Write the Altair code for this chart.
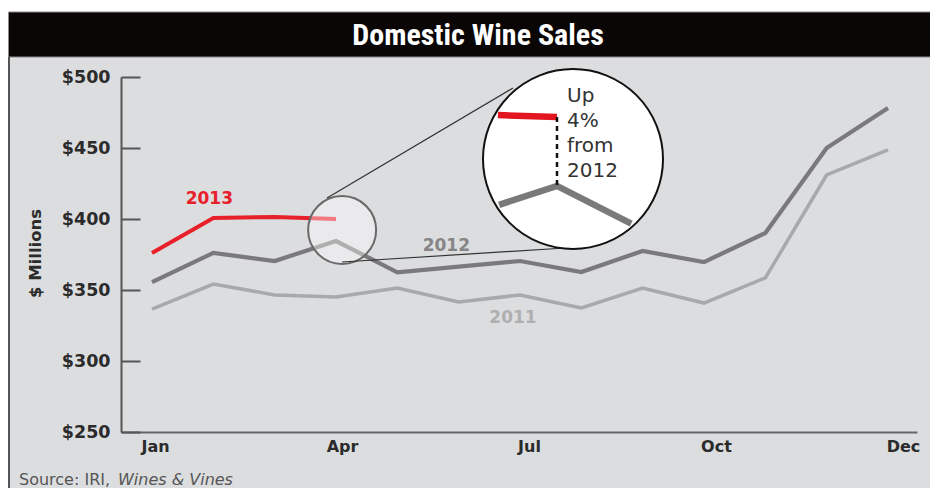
import math
import altair as alt
import pandas as pd

# ------------------------------------------------------------------ data
month_index = list(range(13))
sales_2011 = [336.6, 354.2, 346.5, 345.1, 351.4, 341.5, 346.5, 337.3, 351.4, 340.8, 358.5, 431.0, 448.6]
sales_2012 = [355.6, 376.1, 370.4, 384.5, 362.5, 366.5, 370.4, 362.7, 377.5, 369.7, 390.1, 450.0, 478.2]
sales_2013 = [376.1, 400.7, 401.4, 400.0]
tick_months = [0, 3, 6, 9, 12]
tick_labels = ["Jan", "Apr", "Jul", "Oct", "Dec"]
y_ticks = [250, 300, 350, 400, 450, 500]
callout_lines = ["Up", "4%", "from", "2012"]
title_text = "Domestic Wine Sales"
y_title = "$ Millions"
source_plain = "Source: IRI,"
source_italic = "Wines & Vines"

# ------------------------------------------------------------------ style / layout
W, H = 796, 355
PAD = {"left": 113, "top": 69, "right": 13, "bottom": 56}
X_DOMAIN = [-0.5055, 12.473]
Y_DOMAIN = [250, 500]
MONTH_PX = W / (X_DOMAIN[1] - X_DOMAIN[0])
VALUE_PX = H / (Y_DOMAIN[1] - Y_DOMAIN[0])
# month labels in the original sit on a slightly wider spacing than the data points
LABEL_X0, LABEL_STEP = 34, 62.33
LABEL_DOMAIN = [-LABEL_X0 / LABEL_STEP, (W - LABEL_X0) / LABEL_STEP]

BG = "#dcdddf"
RED = "#e8202a"
GRAY12 = "#7a7a7c"
GRAY11 = "#a8a9ab"
INK = "#2b2b2b"
TITLE_FONT = "Liberation Sans Narrow, Roboto Condensed, Roboto, sans-serif"
FONT = "DejaVu Sans"

FOCUS = 3            # April, the magnified month
LENS_SHIFT = 0.1     # the small lens sits a little right of April
ZOOM = 3.13
INSET_CX, INSET_CY, INSET_R = 452, 82, 90
INSET_AX, INSET_AY = 436, 40      # where April 2013 lands inside the big lens
CLIP_R = INSET_R - 3
ANCHOR_V = sales_2013[FOCUS]
IN_X_DOMAIN = [FOCUS - 1, FOCUS + 1]
IN_Y_DOMAIN = [350, 420]

one = pd.DataFrame({"month": [FOCUS]})

# ------------------------------------------------------------------ main chart
def xs():
    return alt.Scale(domain=X_DOMAIN, nice=False, zero=False)


def ys():
    return alt.Scale(domain=Y_DOMAIN, nice=False, zero=False)


label_expr = "''"
for v, t in reversed(list(zip(tick_months, tick_labels))):
    label_expr = "datum.value == %s ? '%s' : (%s)" % (v, t, label_expr)

x_axis = alt.Axis(values=tick_months, labelExpr=label_expr, title=None, grid=False,
                  ticks=False, domain=True, domainColor="#666666", domainWidth=2,
                  labelFont=FONT, labelFontWeight="bold", labelFontSize=16, labelColor=INK,
                  labelPadding=6, orient="bottom")
y_axis_left = alt.Axis(values=y_ticks, labelExpr="'$' + datum.value", grid=False,
                       ticks=False, domain=True, domainColor="#555555", domainWidth=2,
                       labelFont=FONT, labelFontWeight="bold", labelFontSize=17.5, labelColor=INK,
                       labelPadding=11, labelBaseline="middle", orient="left",
                       title=y_title, titleFont=FONT, titleFontWeight="bold", titleFontSize=16.5,
                       titleColor=INK, titleAngle=270, titleX=-86, titleY=176,
                       titleAlign="center", titleBaseline="middle")
y_axis_ticks = alt.Axis(values=y_ticks, orient="right", offset=-W, labels=False, domain=False,
                        grid=False, ticks=True, tickSize=19, tickWidth=2, tickColor="#555555",
                        title=None)

d11 = pd.DataFrame({"month": month_index, "sales": sales_2011})
d12 = pd.DataFrame({"month": month_index, "sales": sales_2012})
d13 = pd.DataFrame({"month": month_index[:len(sales_2013)], "sales": sales_2013})

month_axis = alt.Chart(pd.DataFrame({"month": tick_months})).mark_tick(opacity=0).encode(
    x=alt.X("month:Q", scale=alt.Scale(domain=LABEL_DOMAIN, nice=False, zero=False),
            axis=x_axis))

line11 = alt.Chart(d11).mark_line(color=GRAY11, strokeWidth=3.5).encode(
    x=alt.X("month:Q", scale=xs(), axis=None),
    y=alt.Y("sales:Q", scale=ys(), axis=y_axis_left))
line12 = alt.Chart(d12).mark_line(color=GRAY12, strokeWidth=4.2).encode(
    x=alt.X("month:Q", scale=xs(), axis=None),
    y=alt.Y("sales:Q", scale=ys(), axis=y_axis_ticks))
line13 = alt.Chart(d13).mark_line(color=RED, strokeWidth=4).encode(
    x=alt.X("month:Q", scale=xs(), axis=None),
    y=alt.Y("sales:Q", scale=ys(), axis=None))


def series_label(df, i, text, color, dx, dy):
    d = pd.DataFrame({"month": [df["month"][i]], "sales": [df["sales"][i]], "label": [text]})
    return alt.Chart(d).mark_text(color=color, font=FONT, fontWeight="bold", fontSize=17,
                                  dx=dx, dy=dy, baseline="middle", align="center").encode(
        x=alt.X("month:Q", scale=xs(), axis=None),
        y=alt.Y("sales:Q", scale=ys(), axis=None),
        text="label:N")


lab13 = series_label(d13, 1, "2013", RED, -4, -19)
lab12 = series_label(d12, 4, "2012", "#858585", 49, -26)
lab11 = series_label(d11, 6, "2011", "#afafaf", -7, 23)

lens_df = pd.DataFrame({"month": [FOCUS + LENS_SHIFT],
                        "sales": [(sales_2013[FOCUS] + sales_2012[FOCUS]) / 2]})
lens = alt.Chart(lens_df).mark_point(shape="circle", size=68 ** 2, filled=False, fill="white",
                                     fillOpacity=0.4, stroke="#686868", strokeWidth=2,
                                     opacity=1).encode(
    x=alt.X("month:Q", scale=xs(), axis=None),
    y=alt.Y("sales:Q", scale=ys(), axis=None))

# ------------------------------------------------------------------ frame decorations
frame = alt.layer(
    alt.Chart(one).mark_rect(fill="white").encode(
        x=alt.value(-PAD["left"]), x2=alt.value(W + PAD["right"]),
        y=alt.value(-PAD["top"]), y2=alt.value(-65)),
    alt.Chart(one).mark_rect(fill="#0b0606", stroke="#8a8a8a", strokeWidth=1).encode(
        x=alt.value(-PAD["left"] + 0.5), x2=alt.value(W + PAD["right"] + 2),
        y=alt.value(-65), y2=alt.value(-20)),
    alt.Chart(one).mark_rule(color="#555555", strokeWidth=2).encode(
        x=alt.value(-PAD["left"] + 1), y=alt.value(-20), y2=alt.value(H + PAD["bottom"])),
)

connectors = alt.layer(
    alt.Chart(one).mark_rule(color="#333333", strokeWidth=1.2).encode(
        x=alt.value(206), y=alt.value(121), x2=alt.value(392), y2=alt.value(11)),
    alt.Chart(one).mark_rule(color="#333333", strokeWidth=1.2).encode(
        x=alt.value(221), y=alt.value(185), x2=alt.value(444), y2=alt.value(171)),
)

# ------------------------------------------------------------------ magnified inset
def to_inset_px(m, v):
    return (INSET_AX + MONTH_PX * ZOOM * (m - FOCUS), INSET_AY + VALUE_PX * ZOOM * (ANCHOR_V - v))


def clip_to_lens(m_in, v_in, m_out, v_out):
    """Point where the segment (inside -> outside) crosses the lens edge."""
    x0, y0 = to_inset_px(m_in, v_in)
    x1, y1 = to_inset_px(m_out, v_out)
    dx, dy = x1 - x0, y1 - y0
    fx, fy = x0 - INSET_CX, y0 - INSET_CY
    a = dx * dx + dy * dy
    b = 2 * (dx * fx + dy * fy)
    c = fx * fx + fy * fy - CLIP_R ** 2
    t = (-b + math.sqrt(b * b - 4 * a * c)) / (2 * a)
    return m_in + t * (m_out - m_in), v_in + t * (v_out - v_in)


r_start = clip_to_lens(FOCUS, sales_2013[FOCUS], FOCUS - 1, sales_2013[FOCUS - 1])
g_start = clip_to_lens(FOCUS, sales_2012[FOCUS], FOCUS - 1, sales_2012[FOCUS - 1])
g_end = clip_to_lens(FOCUS, sales_2012[FOCUS], FOCUS + 1, sales_2012[FOCUS + 1])

in13 = pd.DataFrame({"month": [r_start[0], FOCUS], "sales": [r_start[1], sales_2013[FOCUS]]})
in12 = pd.DataFrame({"month": [g_start[0], FOCUS, g_end[0]],
                     "sales": [g_start[1], sales_2012[FOCUS], g_end[1]]})

xs_in = alt.Scale(domain=IN_X_DOMAIN, nice=False, zero=False,
                  range=[INSET_AX - MONTH_PX * ZOOM, INSET_AX + MONTH_PX * ZOOM])
ys_in = alt.Scale(domain=IN_Y_DOMAIN, nice=False, zero=False,
                  range=[INSET_AY + VALUE_PX * ZOOM * (ANCHOR_V - IN_Y_DOMAIN[0]),
                         INSET_AY - VALUE_PX * ZOOM * (IN_Y_DOMAIN[1] - ANCHOR_V)])

big_circle = alt.Chart(one).mark_point(shape="circle", size=(2 * INSET_R) ** 2, filled=False,
                                       fill="white", fillOpacity=1, stroke="#111111",
                                       strokeWidth=2, opacity=1).encode(
    x=alt.value(INSET_CX), y=alt.value(INSET_CY))

in_line12 = alt.Chart(in12).mark_line(color=GRAY12, strokeWidth=6.5).encode(
    x=alt.X("month:Q", scale=xs_in, axis=None),
    y=alt.Y("sales:Q", scale=ys_in, axis=None))
in_line13 = alt.Chart(in13).mark_line(color="#e3151f", strokeWidth=6.5).encode(
    x=alt.X("month:Q", scale=xs_in, axis=None),
    y=alt.Y("sales:Q", scale=ys_in, axis=None))

gap_df = pd.DataFrame({"month": [FOCUS], "top": [sales_2013[FOCUS]], "bottom": [sales_2012[FOCUS]]})
gap_rule = alt.Chart(gap_df).mark_rule(color="#111111", strokeWidth=2.5, strokeDash=[5, 4]).encode(
    x=alt.X("month:Q", scale=xs_in, axis=None),
    y=alt.Y("top:Q", scale=ys_in, axis=None),
    y2="bottom:Q")

callout = alt.Chart(one).mark_text(text=callout_lines, align="left", baseline="top", dx=10,
                                   lineHeight=25, font=FONT, fontSize=20, color="#333333").encode(
    x=alt.X("month:Q", scale=xs_in, axis=None),
    y=alt.value(9))

inset = alt.layer(big_circle, in_line12, in_line13, gap_rule, callout)

# ------------------------------------------------------------------ source line
source = alt.layer(
    alt.Chart(one).mark_text(text=source_plain, align="left", baseline="middle", font=FONT,
                             fontSize=16, color="#555555").encode(
        x=alt.value(-102), y=alt.value(H + 48)),
    alt.Chart(one).mark_text(text=source_italic, align="left", baseline="middle", font=FONT,
                             fontSize=16, fontStyle="italic", color="#555555").encode(
        x=alt.value(-3), y=alt.value(H + 48)),
)

chart = alt.layer(
    frame, month_axis, line11, line12, line13, lab13, lab12, lab11, lens, connectors, inset, source
).resolve_scale(
    x="independent", y="independent"
).properties(
    width=W, height=H, padding=PAD, autosize=alt.AutoSizeParams(type="none"),
    background=BG,
    title=alt.TitleParams(text=title_text, color="white", font=TITLE_FONT, fontSize=30,
                          fontWeight="bold", anchor="middle", frame="group", dx=-41,
                          offset=-67, baseline="alphabetic"),
).configure_view(stroke=None)

chart.save("out.html", embed_options={"renderer": "svg", "actions": False})
